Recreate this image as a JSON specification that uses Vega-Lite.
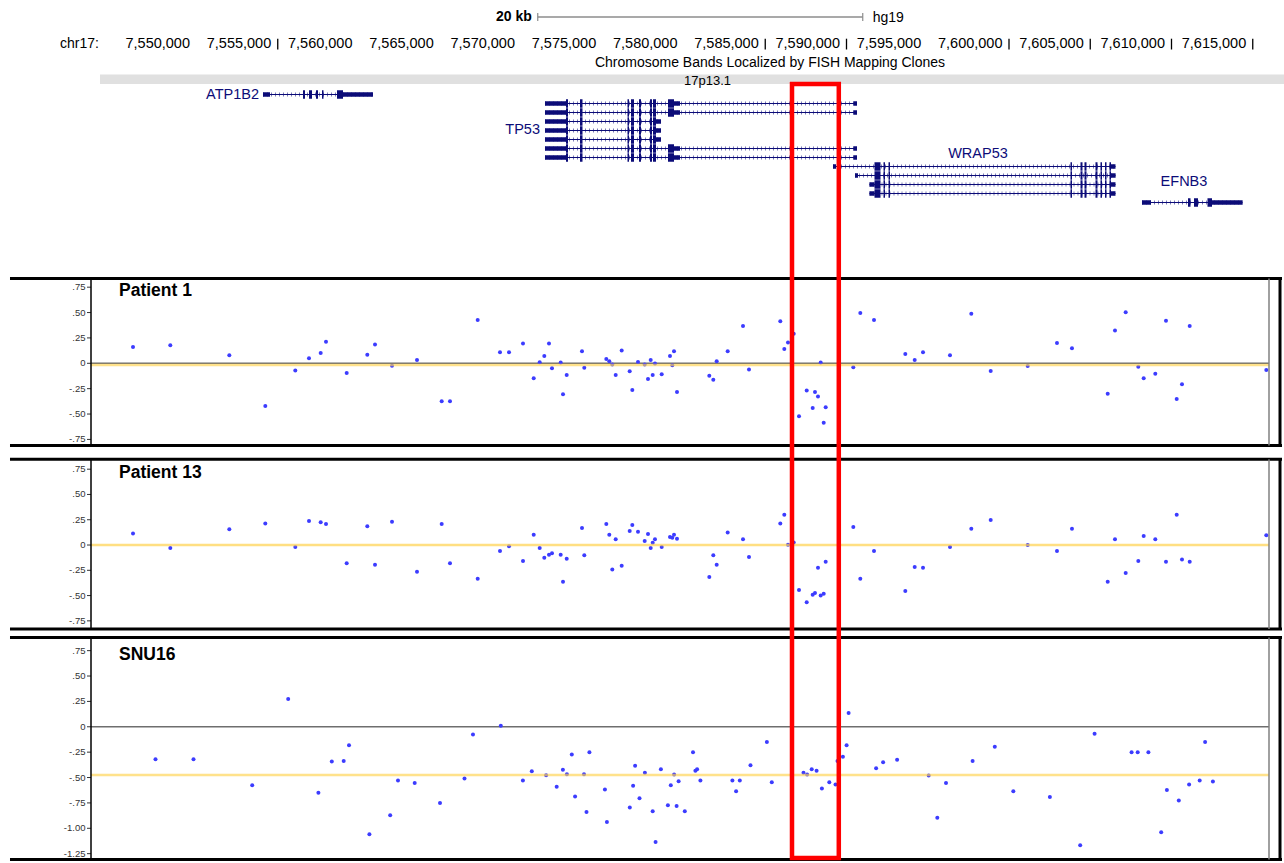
{
"$schema":"https://vega.github.io/schema/vega-lite/v6.json",
"background":"white","padding":0,"spacing":0,"bounds":"flush",
"config":{"view":{"stroke":null},"font":"Liberation Sans"},
"resolve":{"scale":{"x":"independent","y":"independent","size":"independent"}},
"datasets":{
"ruler":[{"pos":7550000,"label":"7,550,000"},{"pos":7555000,"label":"7,555,000"},{"pos":7560000,"label":"7,560,000"},{"pos":7565000,"label":"7,565,000"},{"pos":7570000,"label":"7,570,000"},{"pos":7575000,"label":"7,575,000"},{"pos":7580000,"label":"7,580,000"},{"pos":7585000,"label":"7,585,000"},{"pos":7590000,"label":"7,590,000"},{"pos":7595000,"label":"7,595,000"},{"pos":7600000,"label":"7,600,000"},{"pos":7605000,"label":"7,605,000"},{"pos":7610000,"label":"7,610,000"},{"pos":7615000,"label":"7,615,000"}],
"rulerTicks":[{"pos":7555000,"lane":-6.2,"lane2":-5.0},{"pos":7585000,"lane":-6.2,"lane2":-5.0},{"pos":7590000,"lane":-6.2,"lane2":-5.0},{"pos":7600000,"lane":-6.2,"lane2":-5.0},{"pos":7605000,"lane":-6.2,"lane2":-5.0},{"pos":7610000,"lane":-6.2,"lane2":-5.0},{"pos":7615000,"lane":-6.2,"lane2":-5.0}],
"ticksA":[{"v":0.75,"label":".75"},{"v":0.5,"label":".50"},{"v":0.25,"label":".25"},{"v":0,"label":"0"},{"v":-0.25,"label":"-.25"},{"v":-0.5,"label":"-.50"},{"v":-0.75,"label":"-.75"}],
"ticksB":[{"v":0.75,"label":".75"},{"v":0.5,"label":".50"},{"v":0.25,"label":".25"},{"v":0,"label":"0"},{"v":-0.25,"label":"-.25"},{"v":-0.5,"label":"-.50"},{"v":-0.75,"label":"-.75"},{"v":-1.0,"label":"-1.00"},{"v":-1.25,"label":"-1.25"}],
"tx":[
{"gene":"ATP1B2","lane":0,"pos":7554092,"end":7560862},
{"gene":"TP53","lane":1,"pos":7571446,"end":7590646},
{"gene":"TP53","lane":2,"pos":7571446,"end":7590646},
{"gene":"TP53","lane":3,"pos":7571446,"end":7578585},
{"gene":"TP53","lane":4,"pos":7571446,"end":7578585},
{"gene":"TP53","lane":5,"pos":7571446,"end":7578585},
{"gene":"TP53","lane":6,"pos":7571446,"end":7590646},
{"gene":"TP53","lane":7,"pos":7571446,"end":7590646},
{"gene":"WRAP53","lane":8,"pos":7589169,"end":7606553},
{"gene":"WRAP53","lane":9,"pos":7590523,"end":7606553},
{"gene":"WRAP53","lane":10,"pos":7591415,"end":7606553},
{"gene":"WRAP53","lane":11,"pos":7591415,"end":7606553},
{"gene":"EFNB3","lane":12,"pos":7608184,"end":7614369}],
"exons":[
{"gene":"ATP1B2","lane":0,"s":[7554092,7556554,7556923,7557354,7557723,7558646,7559016],"e":[7554523,7556677,7557108,7557477,7557815,7559016,7560862],"k":["utr","cds","cds","cds","cds","cds","utr"]},
{"gene":"TP53","lane":1,"s":[7571446,7572739,7573600,7576523,7576738,7577231,7577908,7578092,7579015,7579385,7590431],"e":[7572739,7572862,7573754,7576615,7576923,7577354,7578031,7578277,7579385,7579754,7590646],"k":["utr","cds","cds","cds","cds","cds","cds","cds","cds","utr","utr"]},
{"gene":"TP53","lane":2,"s":[7571446,7572739,7573600,7576523,7576738,7577231,7577908,7578092,7579015,7579385,7590431],"e":[7572739,7572862,7573754,7576615,7576923,7577354,7578031,7578277,7579385,7579754,7590646],"k":["utr","cds","cds","cds","cds","cds","cds","cds","cds","utr","utr"]},
{"gene":"TP53","lane":3,"s":[7571446,7572739,7573600,7576523,7576738,7577231,7577908,7578092,7578277],"e":[7572739,7572862,7573754,7576615,7576923,7577354,7578031,7578277,7578585],"k":["utr","cds","cds","cds","cds","cds","cds","cds","utr"]},
{"gene":"TP53","lane":4,"s":[7571446,7572739,7573600,7576523,7576738,7577231,7577908,7578092,7578277],"e":[7572739,7572862,7573754,7576615,7576923,7577354,7578031,7578277,7578585],"k":["utr","cds","cds","cds","cds","cds","cds","cds","utr"]},
{"gene":"TP53","lane":5,"s":[7571446,7572739,7573600,7576523,7576738,7577231,7577908,7578092,7578277],"e":[7572739,7572862,7573754,7576615,7576923,7577354,7578031,7578277,7578585],"k":["utr","cds","cds","cds","cds","cds","cds","cds","utr"]},
{"gene":"TP53","lane":6,"s":[7571446,7572739,7573600,7576523,7576738,7577231,7577908,7578092,7579015,7579385,7590431],"e":[7572739,7572862,7573754,7576615,7576923,7577354,7578031,7578277,7579385,7579754,7590646],"k":["utr","cds","cds","cds","cds","cds","cds","cds","cds","utr","utr"]},
{"gene":"TP53","lane":7,"s":[7571446,7572739,7573600,7576523,7576738,7577231,7577908,7578092,7579015,7579385,7590431],"e":[7572739,7572862,7573754,7576615,7576923,7577354,7578031,7578277,7579385,7579754,7590646],"k":["utr","cds","cds","cds","cds","cds","cds","cds","cds","utr","utr"]},
{"gene":"WRAP53","lane":8,"s":[7589169,7591723,7592277,7592585,7603784,7604400,7604646,7605322,7605630,7605907,7606184,7606277],"e":[7589354,7592092,7592369,7592677,7603876,7604523,7604769,7605446,7605723,7606000,7606277,7606553],"k":["utr","cds","cds","cds","cds","cds","cds","cds","cds","cds","cds","utr"]},
{"gene":"WRAP53","lane":9,"s":[7590523,7591723,7592277,7592585,7603784,7604400,7604646,7605322,7605630,7605907,7606184,7606277],"e":[7590708,7592092,7592369,7592677,7603876,7604523,7604769,7605446,7605723,7606000,7606277,7606553],"k":["utr","cds","cds","cds","cds","cds","cds","cds","cds","cds","cds","utr"]},
{"gene":"WRAP53","lane":10,"s":[7591415,7591723,7592277,7592585,7603784,7604400,7604646,7605322,7605630,7605907,7606184,7606277],"e":[7591723,7592092,7592369,7592677,7603876,7604523,7604769,7605446,7605723,7606000,7606277,7606553],"k":["utr","cds","cds","cds","cds","cds","cds","cds","cds","cds","cds","utr"]},
{"gene":"WRAP53","lane":11,"s":[7591415,7591723,7592277,7592585,7603784,7604400,7604646,7605322,7605630,7605907,7606184,7606277],"e":[7591723,7592092,7592369,7592677,7603876,7604523,7604769,7605446,7605723,7606000,7606277,7606553],"k":["utr","cds","cds","cds","cds","cds","cds","cds","cds","cds","cds","utr"]},
{"gene":"EFNB3","lane":12,"s":[7608184,7611015,7611384,7612215,7612492],"e":[7608738,7611169,7611630,7612492,7614369],"k":["utr","cds","cds","cds","utr"]}],
"geneLabels":[{"label":"ATP1B2","pos":7553846,"lane":0.06,"align":"r"},{"label":"TP53","pos":7571139,"lane":3.94,"align":"r"},{"label":"WRAP53","pos":7598092,"lane":6.58,"align":"c"},{"label":"EFNB3","pos":7610769,"lane":9.69,"align":"c"}],
"probes":[
{"pos":7546093,"p1":0.161,"p13":0.115},{"pos":7548388,"p1":0.177,"p13":-0.030},{"pos":7552019,"p1":0.079,"p13":0.155},{"pos":7554234,"p1":-0.420,"p13":0.214},{"pos":7556080,"p1":-0.072,"p13":-0.020},{"pos":7556923,"p1":0.049,"p13":0.237},{"pos":7557643,"p1":0.102,"p13":0.224},{"pos":7557969,"p1":0.213,"p13":0.208},{"pos":7559243,"p1":-0.095,"p13":-0.181},{"pos":7560511,"p1":0.085,"p13":0.185},
{"pos":7560985,"p1":0.184,"p13":-0.195},{"pos":7562031,"p1":-0.023,"p13":0.231},{"pos":7563569,"p1":0.033,"p13":-0.264},{"pos":7565089,"p1":-0.374,"p13":0.208},{"pos":7565600,"p1":-0.374,"p13":-0.181},{"pos":7567305,"p1":0.427,"p13":-0.333},{"pos":7568677,"p1":0.108,"p13":-0.059},{"pos":7569231,"p1":0.108,"p13":-0.013},{"pos":7570092,"p1":0.194,"p13":-0.158},{"pos":7570751,"p1":-0.148,"p13":0.102},
{"pos":7571120,"p1":0.010,"p13":-0.030},{"pos":7571403,"p1":0.072,"p13":-0.125},{"pos":7571692,"p1":0.194,"p13":-0.096},{"pos":7571877,"p1":-0.049,"p13":-0.082},{"pos":7572412,"p1":0.007,"p13":-0.096},{"pos":7572554,"p1":-0.305,"p13":-0.363},{"pos":7572782,"p1":-0.115,"p13":-0.135},{"pos":7573723,"p1":0.118,"p13":0.168},{"pos":7573865,"p1":-0.043,"p13":-0.102},{"pos":7575218,"p1":0.043,"p13":0.208},
{"pos":7575403,"p1":0.020,"p13":0.102},{"pos":7575588,"p1":-0.013,"p13":-0.241},{"pos":7575797,"p1":-0.115,"p13":0.056},{"pos":7576166,"p1":0.125,"p13":-0.204},{"pos":7576658,"p1":-0.079,"p13":0.138},{"pos":7576819,"p1":-0.263,"p13":0.198},{"pos":7577169,"p1":0.013,"p13":0.132},{"pos":7577581,"p1":-0.013,"p13":0.040},{"pos":7577785,"p1":-0.154,"p13":0.109},{"pos":7577951,"p1":0.033,"p13":-0.030},
{"pos":7578074,"p1":-0.115,"p13":0.023},{"pos":7578215,"p1":-0.003,"p13":0.056},{"pos":7578628,"p1":-0.108,"p13":-0.020},{"pos":7579138,"p1":0.072,"p13":0.079},{"pos":7579280,"p1":-0.020,"p13":0.073},{"pos":7579385,"p1":0.118,"p13":0.102},{"pos":7579569,"p1":-0.282,"p13":0.063},{"pos":7581557,"p1":-0.122,"p13":-0.317},{"pos":7581803,"p1":-0.161,"p13":-0.102},{"pos":7582012,"p1":0.020,"p13":-0.195},
{"pos":7582689,"p1":0.118,"p13":0.125},{"pos":7583631,"p1":0.368,"p13":0.056},{"pos":7584000,"p1":-0.062,"p13":-0.119},{"pos":7585926,"p1":0.414,"p13":0.214},{"pos":7586172,"p1":0.141,"p13":0.300},{"pos":7586400,"p1":0.204,"p13":0.003},{"pos":7586751,"p1":0.292,"p13":0.026},{"pos":7587077,"p1":-0.522,"p13":-0.445},{"pos":7587551,"p1":-0.269,"p13":-0.567},{"pos":7587920,"p1":-0.440,"p13":-0.491},
{"pos":7588061,"p1":-0.282,"p13":-0.475},{"pos":7588246,"p1":-0.328,"p13":-0.224},{"pos":7588412,"p1":0.007,"p13":-0.498},{"pos":7588597,"p1":-0.585,"p13":-0.481},{"pos":7588720,"p1":-0.433,"p13":-0.165},{"pos":7590418,"p1":-0.039,"p13":0.178},{"pos":7590849,"p1":0.496,"p13":-0.333},{"pos":7591692,"p1":0.427,"p13":-0.059},{"pos":7593618,"p1":0.092,"p13":-0.455},{"pos":7594197,"p1":0.033,"p13":-0.218},
{"pos":7594708,"p1":0.108,"p13":-0.224},{"pos":7596369,"p1":0.079,"p13":-0.020},{"pos":7597680,"p1":0.489,"p13":0.162},{"pos":7598874,"p1":-0.076,"p13":0.247},{"pos":7601151,"p1":-0.026,"p13":0.000},{"pos":7602952,"p1":0.200,"p13":-0.059},{"pos":7603875,"p1":0.148,"p13":0.162},{"pos":7606074,"p1":-0.299,"p13":-0.363},{"pos":7606523,"p1":0.322,"p13":0.056},{"pos":7607181,"p1":0.502,"p13":-0.277},
{"pos":7607957,"p1":-0.033,"p13":-0.158},{"pos":7608289,"p1":-0.148,"p13":0.089},{"pos":7609003,"p1":-0.102,"p13":0.056},{"pos":7609661,"p1":0.420,"p13":-0.165},{"pos":7610320,"p1":-0.351,"p13":0.300},{"pos":7610646,"p1":-0.207,"p13":-0.142},{"pos":7611120,"p1":0.368,"p13":-0.165},{"pos":7615833,"p1":-0.066,"p13":0.096}],
"snu16":[
{"pos":7547477,"v":-0.319},{"pos":7549816,"v":-0.319},{"pos":7553428,"v":-0.576},{"pos":7555643,"v":0.273},{"pos":7557502,"v":-0.651},{"pos":7558326,"v":-0.342},{"pos":7559059,"v":-0.336},{"pos":7559385,"v":-0.181},{"pos":7560640,"v":-1.059},{"pos":7561920,"v":-0.872},
{"pos":7562400,"v":-0.530},{"pos":7563428,"v":-0.553},{"pos":7564985,"v":-0.750},{"pos":7566492,"v":-0.510},{"pos":7567015,"v":-0.076},{"pos":7568726,"v":0.010},{"pos":7570086,"v":-0.530},{"pos":7570634,"v":-0.438},{"pos":7571514,"v":-0.477},{"pos":7572166,"v":-0.592},
{"pos":7572548,"v":-0.424},{"pos":7572794,"v":-0.467},{"pos":7573095,"v":-0.273},{"pos":7573298,"v":-0.688},{"pos":7573846,"v":-0.467},{"pos":7574000,"v":-0.839},{"pos":7574179,"v":-0.250},{"pos":7575133,"v":-0.618},{"pos":7575256,"v":-0.938},{"pos":7576665,"v":-0.796},
{"pos":7576868,"v":-0.582},{"pos":7576991,"v":-0.385},{"pos":7577262,"v":-0.704},{"pos":7577594,"v":-0.454},{"pos":7578073,"v":-0.832},{"pos":7578252,"v":-1.135},{"pos":7578578,"v":-0.418},{"pos":7579009,"v":-0.773},{"pos":7579188,"v":-0.576},{"pos":7579391,"v":-0.470},
{"pos":7579545,"v":-0.780},{"pos":7579668,"v":-0.536},{"pos":7580049,"v":-0.832},{"pos":7580554,"v":-0.250},{"pos":7580702,"v":-0.434},{"pos":7580806,"v":-0.418},{"pos":7581009,"v":-0.530},{"pos":7582978,"v":-0.530},{"pos":7583206,"v":-0.635},{"pos":7583434,"v":-0.530},
{"pos":7584091,"v":-0.378},{"pos":7585100,"v":-0.151},{"pos":7585402,"v":-0.546},{"pos":7587354,"v":-0.454},{"pos":7587576,"v":-0.470},{"pos":7587859,"v":-0.418},{"pos":7588159,"v":-0.434},{"pos":7588486,"v":-0.609},{"pos":7588941,"v":-0.546},{"pos":7589323,"v":-0.569},
{"pos":7589446,"v":-0.336},{"pos":7589778,"v":-0.296},{"pos":7590006,"v":-0.181},{"pos":7590130,"v":0.135},{"pos":7591822,"v":-0.408},{"pos":7592253,"v":-0.349},{"pos":7593114,"v":-0.326},{"pos":7595058,"v":-0.480},{"pos":7595588,"v":-0.895},{"pos":7596123,"v":-0.553},
{"pos":7597760,"v":-0.336},{"pos":7599126,"v":-0.197},{"pos":7600265,"v":-0.635},{"pos":7602516,"v":-0.691},{"pos":7604381,"v":-1.168},{"pos":7605267,"v":-0.069},{"pos":7607544,"v":-0.250},{"pos":7607920,"v":-0.250},{"pos":7608578,"v":-0.250},{"pos":7609366,"v":-1.039},
{"pos":7609717,"v":-0.622},{"pos":7610449,"v":-0.727},{"pos":7611083,"v":-0.569},{"pos":7611735,"v":-0.530},{"pos":7612068,"v":-0.151},{"pos":7612548,"v":-0.539}]
},
"vconcat":[
{
"width":1284,"height":272,
"layer":[
{"data":{"values":[{"pos":7544062,"end":7616923,"lane":-2.222,"lane2":-1.167}]},"mark":{"type":"rect","color":"#e0e0e0"},
 "encoding":{"x":{"field":"pos","type":"quantitative","scale":{"domain":[7537908,7616923],"nice":false,"zero":false},"axis":null},"x2":{"field":"end"},
 "y":{"field":"lane","type":"quantitative","scale":{"domain":[-10.5,19.722],"reverse":true,"nice":false,"zero":false},"axis":null},"y2":{"field":"lane2"}}},
{"data":{"values":[{"pos":7581446,"lane":-1.5,"label":"17p13.1"}]},"mark":{"type":"text","fontSize":13,"align":"center","baseline":"middle","color":"#000000"},
 "encoding":{"x":{"field":"pos","type":"quantitative","axis":null},"y":{"field":"lane","type":"quantitative","axis":null},"text":{"field":"label"}}},
{"data":{"values":[{"pos":7571000,"end":7591000,"lane":-8.611}]},"mark":{"type":"rule","color":"#8c8c8c","strokeWidth":1.5},
 "encoding":{"x":{"field":"pos","type":"quantitative","axis":null},"x2":{"field":"end"},"y":{"field":"lane","type":"quantitative","axis":null}}},
{"data":{"values":[{"pos":7571000,"lane":-9.05,"lane2":-8.17},{"pos":7591000,"lane":-9.05,"lane2":-8.17}]},"mark":{"type":"rule","color":"#8c8c8c","strokeWidth":1.2},
 "encoding":{"x":{"field":"pos","type":"quantitative","axis":null},"y":{"field":"lane","type":"quantitative","axis":null},"y2":{"field":"lane2"}}},
{"data":{"values":[{"pos":7571000,"lane":-8.611,"label":"20 kb"}]},"mark":{"type":"text","fontSize":14,"fontWeight":"bold","align":"right","baseline":"middle","dx":-6,"color":"#000000"},
 "encoding":{"x":{"field":"pos","type":"quantitative","axis":null},"y":{"field":"lane","type":"quantitative","axis":null},"text":{"field":"label"}}},
{"data":{"values":[{"pos":7591000,"lane":-8.5,"label":"hg19"}]},"mark":{"type":"text","fontSize":14,"align":"left","baseline":"middle","dx":10,"color":"#000000"},
 "encoding":{"x":{"field":"pos","type":"quantitative","axis":null},"y":{"field":"lane","type":"quantitative","axis":null},"text":{"field":"label"}}},
{"data":{"values":[{"pos":7541600,"lane":-5.611,"label":"chr17:"}]},"mark":{"type":"text","fontSize":14,"align":"left","baseline":"middle","color":"#000000"},
 "encoding":{"x":{"field":"pos","type":"quantitative","axis":null},"y":{"field":"lane","type":"quantitative","axis":null},"text":{"field":"label"}}},
{"data":{"name":"ruler"},"mark":{"type":"text","fontSize":14.5,"align":"right","baseline":"middle","dx":-6.5,"color":"#000000"},
 "encoding":{"x":{"field":"pos","type":"quantitative","axis":null},"y":{"datum":-5.611,"type":"quantitative","axis":null},"text":{"field":"label"}}},
{"data":{"name":"rulerTicks"},"mark":{"type":"rule","color":"#000000","strokeWidth":1.3},
 "encoding":{"x":{"field":"pos","type":"quantitative","axis":null},"y":{"field":"lane","type":"quantitative","axis":null},"y2":{"field":"lane2"}}},
{"data":{"values":[{"pos":7585292,"lane":-3.5,"label":"Chromosome Bands Localized by FISH Mapping Clones"}]},"mark":{"type":"text","fontSize":14,"align":"center","baseline":"middle","color":"#000000"},
 "encoding":{"x":{"field":"pos","type":"quantitative","axis":null},"y":{"field":"lane","type":"quantitative","axis":null},"text":{"field":"label"}}},
{"data":{"name":"tx"},"mark":{"type":"rule","color":"#0c0c78","strokeWidth":1},
 "encoding":{"x":{"field":"pos","type":"quantitative","axis":null},"x2":{"field":"end"},"y":{"field":"lane","type":"quantitative","axis":null}}},
{"data":{"name":"tx"},"mark":{"type":"rule","color":"#0c0c78","strokeWidth":4,"strokeDash":[1,3],"opacity":0.55},
 "encoding":{"x":{"field":"pos","type":"quantitative","axis":null},"x2":{"field":"end"},"y":{"field":"lane","type":"quantitative","axis":null}}},
{"data":{"name":"exons"},"transform":[{"flatten":["s","e","k"]}],"mark":{"type":"rule","color":"#0c0c78"},
 "encoding":{"x":{"field":"s","type":"quantitative","axis":null},"x2":{"field":"e"},"y":{"field":"lane","type":"quantitative","axis":null},
 "size":{"field":"k","type":"nominal","scale":{"domain":["utr","cds"],"range":[4.5,8.5]},"legend":null}}},
{"data":{"name":"geneLabels"},"transform":[{"filter":"datum.align == 'r'"}],"mark":{"type":"text","fontSize":14.5,"align":"right","baseline":"middle","color":"#0c0c78"},
 "encoding":{"x":{"field":"pos","type":"quantitative","axis":null},"y":{"field":"lane","type":"quantitative","axis":null},"text":{"field":"label"}}},
{"data":{"name":"geneLabels"},"transform":[{"filter":"datum.align == 'c'"}],"mark":{"type":"text","fontSize":14.5,"align":"center","baseline":"middle","color":"#0c0c78"},
 "encoding":{"x":{"field":"pos","type":"quantitative","axis":null},"y":{"field":"lane","type":"quantitative","axis":null},"text":{"field":"label"}}},
{"data":{"values":[{"pos":7586646,"lane":-1.389,"lane2":19.722},{"pos":7589526,"lane":-1.389,"lane2":19.722}]},"mark":{"type":"rule","color":"#ff0000","strokeWidth":4.5},
 "encoding":{"x":{"field":"pos","type":"quantitative","axis":null},"y":{"field":"lane","type":"quantitative","axis":null},"y2":{"field":"lane2"}}},
{"data":{"values":[{"pos":7586523,"end":7589661,"lane":-1.167}]},"mark":{"type":"rule","color":"#ff0000","strokeWidth":4.5},
 "encoding":{"x":{"field":"pos","type":"quantitative","axis":null},"x2":{"field":"end"},"y":{"field":"lane","type":"quantitative","axis":null}}}
]
},
{
"width":1284,"height":180,
"layer":[
{"data":{"values":[{"pos":7543508,"end":7616000,"v":0}]},"mark":{"type":"rule","color":"#6e6e6e","strokeWidth":1.5},
 "encoding":{"x":{"field":"pos","type":"quantitative","scale":{"domain":[7537908,7616923],"nice":false,"zero":false},"axis":null},"x2":{"field":"end"},
 "y":{"field":"v","type":"quantitative","scale":{"domain":[-0.874,0.8995],"nice":false,"zero":false},"axis":null}}},
{"data":{"name":"probes"},"mark":{"type":"circle","size":16,"color":"#3c3cff","opacity":1},
 "encoding":{"x":{"field":"pos","type":"quantitative","axis":null},"y":{"field":"p1","type":"quantitative","axis":null}}},
{"data":{"values":[{"pos":7543508,"end":7616000,"v":-0.016}]},"mark":{"type":"rule","color":"#ffd24d","opacity":0.65,"strokeWidth":2.5},
 "encoding":{"x":{"field":"pos","type":"quantitative","axis":null},"x2":{"field":"end"},"y":{"field":"v","type":"quantitative","axis":null}}},
{"data":{"name":"ticksA"},"mark":{"type":"rule","color":"#333333","strokeWidth":1},
 "encoding":{"x":{"datum":7543262,"type":"quantitative","axis":null},"x2":{"datum":7543508},"y":{"field":"v","type":"quantitative","axis":null}}},
{"data":{"name":"ticksA"},"mark":{"type":"text","align":"right","baseline":"middle","fontSize":9.5,"color":"#333333"},
 "encoding":{"x":{"datum":7543169,"type":"quantitative","axis":null},"y":{"field":"v","type":"quantitative","axis":null},"text":{"field":"label"}}},
{"data":{"values":[{"pos":7538523,"end":7616800,"v":0.835},{"pos":7538523,"end":7616800,"v":-0.81}]},"mark":{"type":"rule","color":"#000000","strokeWidth":3},
 "encoding":{"x":{"field":"pos","type":"quantitative","axis":null},"x2":{"field":"end"},"y":{"field":"v","type":"quantitative","axis":null}}},
{"data":{"values":[{"pos":7616677,"v":0.835,"v2":-0.81}]},"mark":{"type":"rule","color":"#000000","strokeWidth":3},
 "encoding":{"x":{"field":"pos","type":"quantitative","axis":null},"y":{"field":"v","type":"quantitative","axis":null},"y2":{"field":"v2"}}},
{"data":{"values":[{"pos":7616000,"v":0.835,"v2":-0.81}]},"mark":{"type":"rule","color":"#808080","strokeWidth":1.5},
 "encoding":{"x":{"field":"pos","type":"quantitative","axis":null},"y":{"field":"v","type":"quantitative","axis":null},"y2":{"field":"v2"}}},
{"data":{"values":[{"pos":7543508,"v":0.835,"v2":-0.81}]},"mark":{"type":"rule","color":"#000000","strokeWidth":1.5},
 "encoding":{"x":{"field":"pos","type":"quantitative","axis":null},"y":{"field":"v","type":"quantitative","axis":null},"y2":{"field":"v2"}}},
{"data":{"values":[{"pos":7545231,"v":0.663,"label":"Patient 1"}]},"mark":{"type":"text","fontSize":17.5,"fontWeight":"bold","align":"left","baseline":"alphabetic","color":"#000000"},
 "encoding":{"x":{"field":"pos","type":"quantitative","axis":null},"y":{"field":"v","type":"quantitative","axis":null},"text":{"field":"label"}}},
{"data":{"values":[{"pos":7586646},{"pos":7589526}]},"mark":{"type":"rule","color":"#ff0000","strokeWidth":4.5},
 "encoding":{"x":{"field":"pos","type":"quantitative","axis":null}}}
]
},
{
"width":1284,"height":182,
"layer":[
{"data":{"name":"probes"},"mark":{"type":"circle","size":16,"color":"#3c3cff","opacity":1},
 "encoding":{"x":{"field":"pos","type":"quantitative","scale":{"domain":[7537908,7616923],"nice":false,"zero":false},"axis":null},
 "y":{"field":"p13","type":"quantitative","scale":{"domain":[-0.88,0.92],"nice":false,"zero":false},"axis":null}}},
{"data":{"values":[{"pos":7543508,"end":7616000,"v":0}]},"mark":{"type":"rule","color":"#ffd24d","opacity":0.7,"strokeWidth":2.5},
 "encoding":{"x":{"field":"pos","type":"quantitative","axis":null},"x2":{"field":"end"},"y":{"field":"v","type":"quantitative","axis":null}}},
{"data":{"name":"ticksA"},"mark":{"type":"rule","color":"#333333","strokeWidth":1},
 "encoding":{"x":{"datum":7543262,"type":"quantitative","axis":null},"x2":{"datum":7543508},"y":{"field":"v","type":"quantitative","axis":null}}},
{"data":{"name":"ticksA"},"mark":{"type":"text","align":"right","baseline":"middle","fontSize":9.5,"color":"#333333"},
 "encoding":{"x":{"datum":7543169,"type":"quantitative","axis":null},"y":{"field":"v","type":"quantitative","axis":null},"text":{"field":"label"}}},
{"data":{"values":[{"pos":7538523,"end":7616800,"v":0.848},{"pos":7538523,"end":7616800,"v":-0.831}]},"mark":{"type":"rule","color":"#000000","strokeWidth":3},
 "encoding":{"x":{"field":"pos","type":"quantitative","axis":null},"x2":{"field":"end"},"y":{"field":"v","type":"quantitative","axis":null}}},
{"data":{"values":[{"pos":7616677,"v":0.848,"v2":-0.831}]},"mark":{"type":"rule","color":"#000000","strokeWidth":3},
 "encoding":{"x":{"field":"pos","type":"quantitative","axis":null},"y":{"field":"v","type":"quantitative","axis":null},"y2":{"field":"v2"}}},
{"data":{"values":[{"pos":7616000,"v":0.848,"v2":-0.831}]},"mark":{"type":"rule","color":"#808080","strokeWidth":1.5},
 "encoding":{"x":{"field":"pos","type":"quantitative","axis":null},"y":{"field":"v","type":"quantitative","axis":null},"y2":{"field":"v2"}}},
{"data":{"values":[{"pos":7543508,"v":0.848,"v2":-0.831}]},"mark":{"type":"rule","color":"#000000","strokeWidth":1.5},
 "encoding":{"x":{"field":"pos","type":"quantitative","axis":null},"y":{"field":"v","type":"quantitative","axis":null},"y2":{"field":"v2"}}},
{"data":{"values":[{"pos":7545231,"v":0.663,"label":"Patient 13"}]},"mark":{"type":"text","fontSize":17.5,"fontWeight":"bold","align":"left","baseline":"alphabetic","color":"#000000"},
 "encoding":{"x":{"field":"pos","type":"quantitative","axis":null},"y":{"field":"v","type":"quantitative","axis":null},"text":{"field":"label"}}},
{"data":{"values":[{"pos":7586646},{"pos":7589526}]},"mark":{"type":"rule","color":"#ff0000","strokeWidth":4.5},
 "encoding":{"x":{"field":"pos","type":"quantitative","axis":null}}}
]
},
{
"width":1284,"height":229,
"layer":[
{"data":{"values":[{"pos":7543508,"end":7616000,"v":0}]},"mark":{"type":"rule","color":"#6e6e6e","strokeWidth":1.5},
 "encoding":{"x":{"field":"pos","type":"quantitative","scale":{"domain":[7537908,7616923],"nice":false,"zero":false},"axis":null},"x2":{"field":"end"},
 "y":{"field":"v","type":"quantitative","scale":{"domain":[-1.342,0.914],"nice":false,"zero":false},"axis":null}}},
{"data":{"name":"snu16"},"mark":{"type":"circle","size":16,"color":"#3c3cff","opacity":1},
 "encoding":{"x":{"field":"pos","type":"quantitative","axis":null},"y":{"field":"v","type":"quantitative","axis":null}}},
{"data":{"values":[{"pos":7543508,"end":7616000,"v":-0.475}]},"mark":{"type":"rule","color":"#ffd24d","opacity":0.65,"strokeWidth":2.5},
 "encoding":{"x":{"field":"pos","type":"quantitative","axis":null},"x2":{"field":"end"},"y":{"field":"v","type":"quantitative","axis":null}}},
{"data":{"name":"ticksB"},"mark":{"type":"rule","color":"#333333","strokeWidth":1},
 "encoding":{"x":{"datum":7543262,"type":"quantitative","axis":null},"x2":{"datum":7543508},"y":{"field":"v","type":"quantitative","axis":null}}},
{"data":{"name":"ticksB"},"mark":{"type":"text","align":"right","baseline":"middle","fontSize":9.5,"color":"#333333"},
 "encoding":{"x":{"datum":7543169,"type":"quantitative","axis":null},"y":{"field":"v","type":"quantitative","axis":null},"text":{"field":"label"}}},
{"data":{"values":[{"pos":7538523,"end":7616800,"v":0.88},{"pos":7538523,"end":7616800,"v":-1.307}]},"mark":{"type":"rule","color":"#000000","strokeWidth":3},
 "encoding":{"x":{"field":"pos","type":"quantitative","axis":null},"x2":{"field":"end"},"y":{"field":"v","type":"quantitative","axis":null}}},
{"data":{"values":[{"pos":7616677,"v":0.88,"v2":-1.307}]},"mark":{"type":"rule","color":"#000000","strokeWidth":3},
 "encoding":{"x":{"field":"pos","type":"quantitative","axis":null},"y":{"field":"v","type":"quantitative","axis":null},"y2":{"field":"v2"}}},
{"data":{"values":[{"pos":7616000,"v":0.88,"v2":-1.307}]},"mark":{"type":"rule","color":"#808080","strokeWidth":1.5},
 "encoding":{"x":{"field":"pos","type":"quantitative","axis":null},"y":{"field":"v","type":"quantitative","axis":null},"y2":{"field":"v2"}}},
{"data":{"values":[{"pos":7543508,"v":0.88,"v2":-1.307}]},"mark":{"type":"rule","color":"#000000","strokeWidth":1.5},
 "encoding":{"x":{"field":"pos","type":"quantitative","axis":null},"y":{"field":"v","type":"quantitative","axis":null},"y2":{"field":"v2"}}},
{"data":{"values":[{"pos":7545231,"v":0.658,"label":"SNU16"}]},"mark":{"type":"text","fontSize":17.5,"fontWeight":"bold","align":"left","baseline":"alphabetic","color":"#000000"},
 "encoding":{"x":{"field":"pos","type":"quantitative","axis":null},"y":{"field":"v","type":"quantitative","axis":null},"text":{"field":"label"}}},
{"data":{"values":[{"pos":7586646,"v":0.914,"v2":-1.312},{"pos":7589526,"v":0.914,"v2":-1.312}]},"mark":{"type":"rule","color":"#ff0000","strokeWidth":4.5},
 "encoding":{"x":{"field":"pos","type":"quantitative","axis":null},"y":{"field":"v","type":"quantitative","axis":null},"y2":{"field":"v2"}}},
{"data":{"values":[{"pos":7586523,"end":7589661,"v":-1.293}]},"mark":{"type":"rule","color":"#ff0000","strokeWidth":4.5},
 "encoding":{"x":{"field":"pos","type":"quantitative","axis":null},"x2":{"field":"end"},"y":{"field":"v","type":"quantitative","axis":null}}}
]
}
]
}
